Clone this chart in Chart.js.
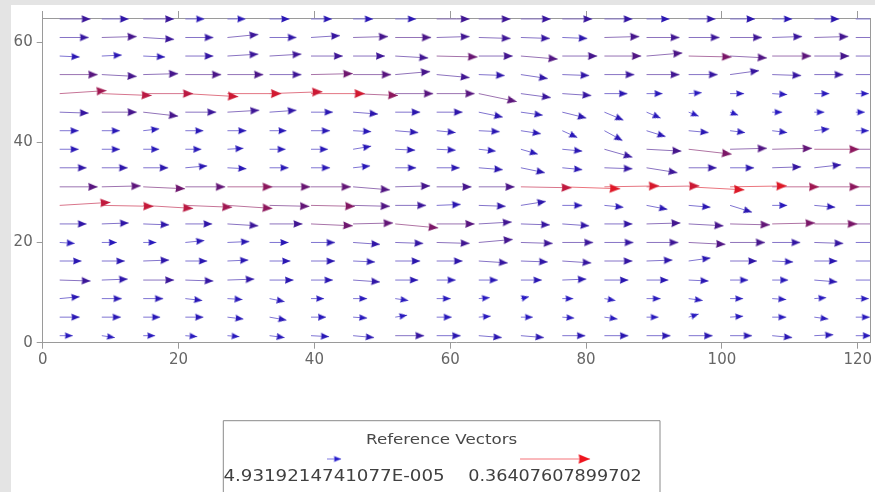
<!DOCTYPE html>
<html>
<head>
<meta charset="utf-8">
<script src="https://cdn.jsdelivr.net/npm/chart.js@4/dist/chart.umd.min.js"></script>
<style>
  html, body { margin: 0; padding: 0; background: #e4e4e4; }
  #wrap { position: absolute; left: 11px; top: 5px; width: 864px; height: 487px; background: #fff; }
</style>
</head>
<body>
<div id="wrap"><canvas id="chart"></canvas></div>
<script>
// grid of the velocity field (x columns, y rows)
const X_COLS = [2.5, 8.7, 14.8, 21.0, 27.2, 33.4, 39.5, 45.7, 51.9, 58.0, 64.2, 70.4, 76.5, 82.7, 88.9, 95.1, 101.2, 107.4, 113.6, 119.7];
const Y_ROWS = [1.4, 5.1, 8.8, 12.5, 16.3, 20.0, 23.7, 27.4, 31.1, 34.9, 38.6, 42.3, 46.0, 49.7, 53.5, 57.2, 60.9, 64.6];

// horizontal velocity, one list per row (bottom row first)
const U_ROWS = [
  [0.068,0.068,0.062,0.062,0.062,0.078,0.094,0.109,0.151,0.125,0.120,0.120,0.120,0.125,0.125,0.125,0.114,0.104,0.099,0.078],
  [0.104,0.099,0.088,0.094,0.083,0.088,0.078,0.073,0.062,0.078,0.062,0.062,0.062,0.068,0.062,0.052,0.068,0.073,0.073,0.073],
  [0.104,0.104,0.104,0.088,0.078,0.078,0.068,0.073,0.068,0.073,0.057,0.042,0.057,0.057,0.073,0.073,0.068,0.073,0.062,0.068],
  [0.161,0.135,0.161,0.146,0.140,0.125,0.114,0.140,0.120,0.099,0.099,0.109,0.125,0.125,0.114,0.104,0.094,0.083,0.120,0.104],
  [0.114,0.120,0.135,0.114,0.109,0.109,0.125,0.114,0.130,0.135,0.151,0.140,0.151,0.146,0.135,0.114,0.140,0.109,0.120,0.104],
  [0.078,0.078,0.068,0.099,0.114,0.099,0.125,0.140,0.146,0.172,0.177,0.166,0.161,0.151,0.166,0.192,0.182,0.146,0.151,0.130],
  [0.140,0.140,0.135,0.140,0.161,0.172,0.218,0.208,0.224,0.198,0.172,0.151,0.140,0.146,0.177,0.182,0.208,0.224,0.224,0.208],
  [0.265,0.270,0.260,0.244,0.234,0.208,0.229,0.192,0.161,0.125,0.140,0.130,0.104,0.099,0.109,0.114,0.114,0.078,0.109,0.104],
  [0.198,0.203,0.218,0.208,0.234,0.213,0.208,0.192,0.182,0.182,0.187,0.265,0.302,0.286,0.276,0.291,0.296,0.244,0.234,0.234],
  [0.140,0.135,0.130,0.114,0.099,0.099,0.099,0.088,0.109,0.120,0.125,0.125,0.104,0.146,0.161,0.146,0.125,0.151,0.140,0.130],
  [0.099,0.094,0.083,0.083,0.083,0.083,0.088,0.094,0.104,0.099,0.088,0.088,0.104,0.146,0.182,0.224,0.192,0.208,0.234,0.208],
  [0.099,0.094,0.083,0.094,0.099,0.088,0.099,0.094,0.120,0.099,0.109,0.104,0.078,0.094,0.099,0.104,0.078,0.078,0.078,0.068],
  [0.151,0.182,0.182,0.161,0.166,0.140,0.114,0.130,0.130,0.135,0.125,0.114,0.125,0.099,0.073,0.052,0.042,0.052,0.052,0.047],
  [0.244,0.260,0.260,0.276,0.281,0.276,0.281,0.234,0.198,0.198,0.198,0.156,0.151,0.120,0.083,0.068,0.073,0.078,0.078,0.068],
  [0.198,0.182,0.182,0.187,0.187,0.166,0.218,0.198,0.182,0.172,0.135,0.140,0.140,0.156,0.172,0.151,0.151,0.151,0.151,0.146],
  [0.104,0.104,0.114,0.146,0.161,0.166,0.166,0.166,0.172,0.213,0.177,0.192,0.182,0.192,0.187,0.224,0.192,0.203,0.182,0.156],
  [0.151,0.182,0.161,0.146,0.161,0.140,0.151,0.182,0.187,0.172,0.166,0.151,0.130,0.182,0.172,0.161,0.166,0.156,0.177,0.156],
  [0.161,0.140,0.161,0.099,0.094,0.104,0.109,0.104,0.109,0.172,0.166,0.156,0.156,0.146,0.120,0.140,0.130,0.104,0.130,0.104]
];

// vertical velocity, same layout
const V_ROWS = [
  [0,-0.010,0,-0.005,-0.005,-0.010,-0.005,-0.010,0,0,-0.010,-0.010,0,0,0,0,0,-0.010,0.005,0],
  [0,0,0,0,-0.010,-0.016,0,-0.005,0.010,0,0.005,0,-0.005,-0.010,0,0.016,0.005,0,-0.010,0],
  [0.010,0,0,-0.010,-0.005,-0.016,0,0,-0.010,0,0.005,0.010,0,-0.010,0,-0.010,0,-0.005,0.005,0],
  [-0.005,0.005,0,-0.005,0.005,0,0,-0.010,0,0,0,0,0.005,0,0,-0.005,0,0,-0.010,0],
  [0,0,0.005,0,0.005,0,0,-0.005,0,0,-0.010,-0.005,-0.010,0,0.005,0.016,0,-0.005,0,0],
  [-0.005,0,0,0.010,0.005,0,0,-0.010,-0.005,-0.005,0.016,-0.005,0,0,0,-0.010,0,0,-0.005,0],
  [0,0.005,-0.005,0,-0.010,0,-0.010,0.005,-0.021,0,0.010,-0.005,-0.010,0,0.005,-0.010,-0.005,0.005,0,0],
  [0.016,-0.005,-0.016,-0.010,-0.016,-0.005,-0.005,-0.005,0,0.005,-0.005,0.021,0,-0.010,-0.021,-0.010,-0.036,0,-0.010,0],
  [0,0.005,-0.010,0,0,0,0,-0.016,0.005,0,0,-0.005,-0.010,0.005,0.005,-0.016,0.005,0,0,0],
  [0,0,0,0.010,-0.005,0,0,0.010,0,0,-0.010,-0.026,-0.010,-0.005,-0.026,0,0,0.005,0.016,0],
  [0,0,0,0,0.005,0,0,0.016,-0.005,-0.005,-0.010,-0.026,-0.010,-0.042,-0.010,-0.026,0.005,0.005,0,0],
  [0,0,0.010,0,0,0,0,-0.005,-0.010,-0.010,-0.005,-0.016,-0.036,-0.052,-0.031,-0.010,-0.010,-0.010,0.010,0],
  [-0.005,0,-0.021,0,0.010,0.010,0,-0.010,0,0,-0.026,-0.016,-0.031,-0.042,-0.031,-0.021,-0.016,0,0,0],
  [0.016,-0.010,0,-0.016,0,0.010,0,-0.010,0,0,-0.042,-0.021,-0.010,0,0,0.005,0,-0.005,0,0],
  [0,-0.010,0.005,0,0,0,0.005,0,0.016,-0.016,-0.005,-0.021,-0.005,0,0,0,0.021,-0.005,0,0],
  [-0.005,0.005,-0.005,0,0.010,0.010,0,0,-0.010,-0.005,0,-0.016,0,0,0.016,-0.005,-0.010,0,0,0],
  [0,0.005,-0.010,0,0.016,0,0.010,0.005,0,0.005,-0.005,-0.005,-0.005,0.005,0,0,0,0.005,0.005,0],
  [0,0,0,0,0,0,0,0,0,0,0,0,0,0,0,0,0,0,0,0]
];

const X_TICKS = [0, 20, 40, 60, 80, 100, 120];
const Y_TICKS = [0, 20, 40, 60];
const REF_VALUES = [4.9319214741077E-005, 0.36407607899702];
const REF_LABELS = ["4.9319214741077E-005", "0.36407607899702"];

// axis extents and arrow scaling (pixels per m/s, turned into axis units)
const X_MAX = 121.8, Y_MAX = 64.79;
const PX_PER_MS = 192;
const KX = PX_PER_MS / 6.8, KY = PX_PER_MS / 5.073;

const STOPS = [[0,[40,30,205]],[0.35,[42,22,175]],[0.5,[70,22,140]],[0.6,[110,22,110]],[0.7,[180,25,70]],[0.8,[220,25,40]],[1,[238,20,30]]];
function rampRGB(mag){
  const t = Math.min(1, mag / REF_VALUES[1]);
  for (let k = 1; k < STOPS.length; k++){
    if (t <= STOPS[k][0]){
      const [t0, a] = STOPS[k-1], [t1, b] = STOPS[k];
      const f = (t - t0) / (t1 - t0);
      return a.map((c, i) => Math.round(c + (b[i] - c) * f));
    }
  }
  return STOPS[STOPS.length-1][1];
}
const rgb = c => `rgb(${c[0]},${c[1]},${c[2]})`;
const shaftRGB = c => c.map(v => Math.round(v + (255 - v) * 0.4));

// filled arrowhead with its tip at the image centre
function headImage(mag, color){
  const len = 7 + 12 * mag, half = 3 + 5 * mag;
  const c = document.createElement("canvas");
  c.width = Math.ceil(len * 2) + 2; c.height = Math.ceil(half * 2) + 2;
  const g = c.getContext("2d");
  const cx = c.width / 2, cy = c.height / 2;
  g.fillStyle = color;
  g.beginPath(); g.moveTo(cx, cy); g.lineTo(cx - len, cy - half); g.lineTo(cx - len * 0.92, cy); g.lineTo(cx - len, cy + half); g.closePath(); g.fill();
  return c;
}

const arrows = [];
Y_ROWS.forEach((y, j) => X_COLS.forEach((x, i) => {
  const u = U_ROWS[j][i], v = V_ROWS[j][i];
  const mag = Math.hypot(u, v), col = rampRGB(mag);
  arrows.push({ x, y, u, v, mag, head: headImage(mag, rgb(col)), shaft: rgb(shaftRGB(col)),
    angle: Math.atan2(-v, u) * 180 / Math.PI });
}));

const shaftData = [];
arrows.forEach(a => shaftData.push({ x: a.x, y: a.y }, { x: a.x + a.u * KX, y: a.y + a.v * KY }, { x: a.x, y: null }));
const tipData = arrows.map(a => ({ x: a.x + a.u * KX, y: a.y + a.v * KY }));

const AXIS = "#9a9a9a", TEXT = "#666";
const tickFont = { family: "DejaVu Sans", size: 15 };

// draws text stretched sideways a little, like the plot's wide lettering
function wideText(ctx, s, x, y, sx){
  ctx.save(); ctx.translate(x, y); ctx.scale(sx, 1); ctx.fillText(s, 0, 0); ctx.restore();
}

// box with the two reference vectors under the plot
const refLegend = {
  id: "refLegend",
  afterDraw(chart){
    const { ctx } = chart;
    const left = 212.3, right = 649, top = 415.7;
    ctx.save();
    ctx.strokeStyle = "#8a8a8a"; ctx.lineWidth = 1;
    ctx.beginPath(); ctx.moveTo(left, 500); ctx.lineTo(left, top); ctx.lineTo(right, top); ctx.lineTo(right, 500); ctx.stroke();
    ctx.fillStyle = "#484848"; ctx.textAlign = "center"; ctx.textBaseline = "middle";
    ctx.font = "14.5px 'DejaVu Sans'";
    wideText(ctx, "Reference Vectors", (left + right) / 2, 435, 1.15);
    ctx.font = "16px 'DejaVu Sans'"; ctx.fillStyle = "#404040";
    const centers = [323, 544];
    REF_VALUES.forEach((val, k) => {
      wideText(ctx, REF_LABELS[k], centers[k], 472, k ? 1.1 : 1.14);
      const len = Math.max(14, val * PX_PER_MS);
      const col = rampRGB(val);
      const x0 = centers[k] - len / 2, x1 = centers[k] + len / 2, y = 454;
      ctx.strokeStyle = rgb(shaftRGB(col));
      ctx.beginPath(); ctx.moveTo(x0, y); ctx.lineTo(x1, y); ctx.stroke();
      const img = headImage(val, rgb(col));
      ctx.drawImage(img, x1 - img.width / 2, y - img.height / 2);
    });
    ctx.restore();
  }
};

new Chart(document.getElementById("chart"), {
  type: "scatter",
  data: {
    datasets: [
      {
        label: "heads", data: tipData, order: 0,
        pointStyle: c => arrows[c.dataIndex].head,
        rotation: c => arrows[c.dataIndex].angle,
        pointRadius: 4, clip: { left: 10, top: 8, right: 0, bottom: 10 },
      },
      {
        label: "shafts", data: shaftData, order: 1, showLine: true, spanGaps: false,
        pointRadius: 0, borderWidth: 1, tension: 0,
        segment: { borderColor: c => arrows[Math.floor(c.p0DataIndex / 3)].shaft },
        clip: { left: 0, top: 2, right: 0, bottom: 0 },
      },
    ],
  },
  options: {
    responsive: true, maintainAspectRatio: false, animation: false, events: [],
    layout: { padding: 0 },
    plugins: { legend: { display: false }, tooltip: { enabled: false } },
    scales: {
      x: {
        type: "linear", position: "bottom", min: 0, max: X_MAX,
        afterBuildTicks: s => { s.ticks = X_TICKS.map(value => ({ value })); },
        afterFit: s => { s.height = 149.3; },
        ticks: { color: TEXT, font: tickFont, padding: 2, maxRotation: 0 },
        grid: { drawOnChartArea: false, tickLength: 6, color: AXIS },
        border: { color: AXIS },
      },
      x2: {
        type: "linear", position: "top", min: 0, max: X_MAX,
        afterBuildTicks: s => { s.ticks = X_TICKS.map(value => ({ value })); },
        afterFit: s => { s.height = 9; },
        ticks: { display: false },
        grid: { drawOnChartArea: false, tickLength: 7, color: AXIS },
        border: { color: AXIS },
      },
      y: {
        type: "linear", position: "left", min: 0, max: Y_MAX,
        afterBuildTicks: s => { s.ticks = Y_TICKS.map(value => ({ value })); },
        afterFit: s => { s.width = 31.7; },
        ticks: { color: TEXT, font: tickFont, padding: 4 },
        grid: { drawOnChartArea: false, tickLength: 6, color: AXIS },
        border: { color: AXIS },
      },
      y2: {
        type: "linear", position: "right", min: 0, max: Y_MAX,
        afterBuildTicks: s => { s.ticks = []; },
        afterFit: s => { s.width = 4; },
        ticks: { display: false },
        grid: { display: false },
        border: { color: AXIS },
      },
    },
  },
  plugins: [refLegend],
});
</script>
</body>
</html>
